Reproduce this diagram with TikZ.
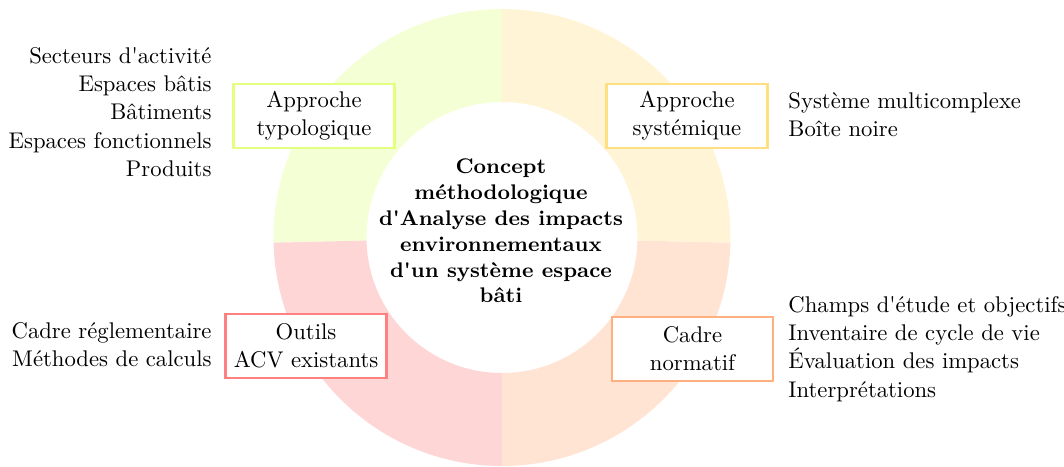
\documentclass[tikz,border=0pt]{standalone}
\usetikzlibrary{calc}
\definecolor{limeFill}{HTML}{F5FFD6}
\definecolor{limeLine}{HTML}{E4FF80}
\definecolor{yelFill}{HTML}{FFF4D6}
\definecolor{yelLine}{HTML}{FFE080}
\definecolor{peachFill}{HTML}{FFE4D4}
\definecolor{peachLine}{HTML}{FFB080}
\definecolor{pinkFill}{HTML}{FFD6D6}
\definecolor{pinkLine}{HTML}{FF8080}
\newcommand\aq{\textquotesingle}
\tikzset{
  basefont/.style={font=\fontsize{9.65}{12}\selectfont},
  boxnode/.style={basefont, draw, line width=1.2pt, fill=white, align=center, minimum width=68.5pt, minimum height=27.2pt, inner sep=2pt},
  listL/.style={basefont, anchor=east, align=right, inner sep=0pt},
  listR/.style={basefont, anchor=west, align=left, inner sep=0pt},
  centertext/.style={align=center, font=\small\bfseries, inner sep=0pt}
}
\begin{document}
\begin{tikzpicture}[x=0.4255pt, y=0.4255pt]
\useasboundingbox (0,0) rectangle (1064,466);
\coordinate (C) at (502,228.5);
\def\Ro{228.5}
\def\Ri{135.5}
\def\ringpart#1#2#3{%
  \fill[#3] ($(C)+(#1:\Ro)$) arc[start angle=#1, end angle=#2, radius=\Ro]
    -- ($(C)+(#2:\Ri)$) arc[start angle=#2, end angle=#1, radius=\Ri] -- cycle;}
\ringpart{90}{181.3}{limeFill}
\ringpart{181.3}{270}{pinkFill}
\ringpart{270}{358.7}{peachFill}
\ringpart{-1.3}{90}{yelFill}

\node[centertext] (center) at (501,235) {Concept\\m\'ethodologique\\d\aq Analyse des impacts\\environnementaux\\d\aq un syst\`eme espace\\b\^ati};

\node[boxnode, draw=limeLine] (typo) at (314,350) {Approche\\typologique};
\node[boxnode, draw=yelLine] (syst) at (687,350) {Approche\\syst\'emique};
\node[boxnode, draw=pinkLine] (outils) at (306,120) {Outils\\ACV existants};
\node[boxnode, draw=peachLine] (cadre) at (692.5,117) {Cadre\\normatif};

\node[listL] (ltop) at (212,354) {Secteurs d\aq activit\'e\\Espaces b\^atis\\B\^atiments\\Espaces fonctionnels\\Produits};
\node[listR] (rtop) at (788,351) {Syst\`eme multicomplexe\\Bo\^ite noire};
\node[listL] (lbot) at (212,121) {Cadre r\'eglementaire\\M\'ethodes de calculs};
\node[listR] (rbot) at (788,117) {Champs d\aq\'etude et objectifs\\Inventaire de cycle de vie\\\'Evaluation des impacts\\Interpr\'etations};
\end{tikzpicture}
\end{document}
